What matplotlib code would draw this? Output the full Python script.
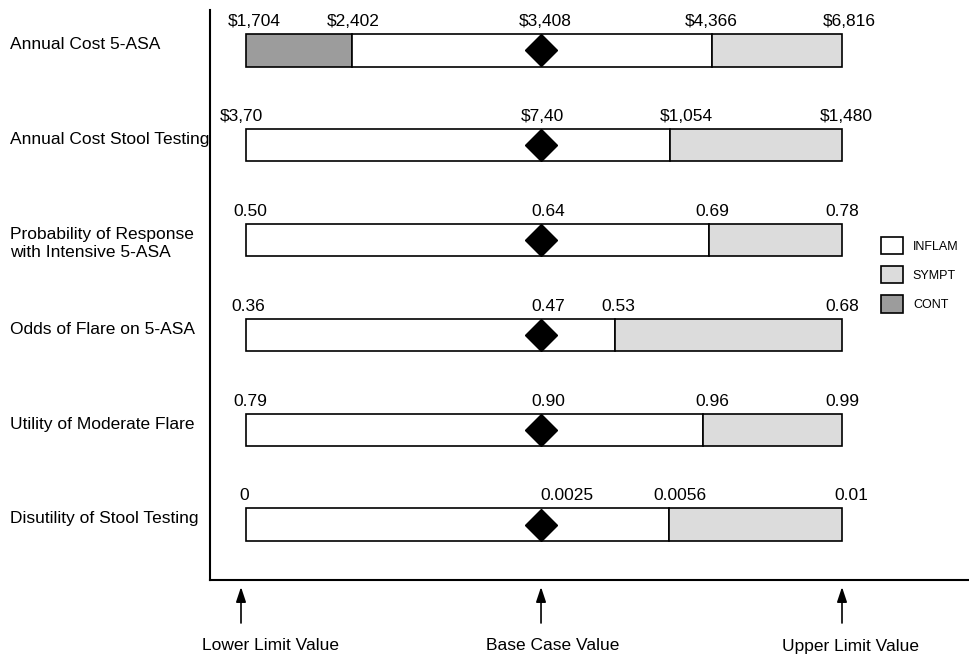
import matplotlib
matplotlib.use("Agg")
import matplotlib.pyplot as plt
from matplotlib.patches import Patch

plt.rcParams['font.family'] = ['Liberation Sans', 'DejaVu Sans']

# ---------------- data ----------------
params = ["Annual Cost 5-ASA", "Annual Cost Stool Testing",
          "Probability of Response\nwith Intensive 5-ASA", "Odds of Flare on 5-ASA",
          "Utility of Moderate Flare", "Disutility of Stool Testing"]
lower_labels = ["$1,704", "$3,70", "0.50", "0.36", "0.79", "0"]
base_labels = ["$3,408", "$7,40", "0.64", "0.47", "0.90", "0.0025"]
upper_labels = ["$6,816", "$1,480", "0.78", "0.68", "0.99", "0.01"]
# normalized positions (lower limit = 0, upper limit = 1)
base_pos = [0.495, 0.495, 0.495, 0.495, 0.495, 0.495]
cont_end = [0.178, 0.0, 0.0, 0.0, 0.0, 0.0]          # CONT optimal from 0 to here
cont_labels = ["$2,402", "", "", "", "", ""]
sympt_start = [0.782, 0.711, 0.777, 0.619, 0.767, 0.710]  # SYMPT optimal from here to 1
sympt_labels = ["$4,366", "$1,054", "0.69", "0.53", "0.96", "0.0056"]

# ---------------- style ----------------
C_INFLAM, C_SYMPT, C_CONT = "white", "#dcdcdc", "#9c9c9c"
FS_VAL = 12.5
FS_ROW = 12.5
bar_h = 0.34
lw = 1.2
# label pixel offsets (horizontal)
lower_dx = [8, -5, 4, 2, 4, -2]
base_dx = [4, 1, 7, 7, 7, 26]
sympt_dx = [-1, 17, 3, 3, 9, 11]
upper_dx = [7, 4, 0, 0, 0, 9]
cont_dx = [1, 0, 0, 0, 0, 0]

fig = plt.figure(figsize=(9.69, 6.58), dpi=100)
W, H = 969, 658
ax = fig.add_axes([210 / W, 78 / H, 759 / W, 570 / H])

px = 1 / 596.0
ax.set_xlim(-36 * px, (969 - 246) * px)
row_sp = 94.8
ax.set_ylim((580 - 50.5) / row_sp, (10 - 50.5) / row_sp)

n = len(params)
for i in range(n):
    y = i
    segs = []
    if cont_end[i] > 0:
        segs.append((0.0, cont_end[i], C_CONT))
    segs.append((cont_end[i], sympt_start[i], C_INFLAM))
    segs.append((sympt_start[i], 1.0, C_SYMPT))
    for s, e, c in segs:
        ax.barh(y, e - s, left=s, height=bar_h, color=c, edgecolor="black",
                linewidth=lw, zorder=2)
    ax.plot(base_pos[i], y, marker="D", ms=16.8, color="black", zorder=3)

    top = y - bar_h / 2
    def lab(xv, txt, dx):
        if txt:
            ax.annotate(txt, (xv, top), xytext=(dx, 8), textcoords="offset pixels",
                        ha="center", va="baseline", fontsize=FS_VAL)
    lab(0.0, lower_labels[i], lower_dx[i])
    lab(base_pos[i], base_labels[i], base_dx[i])
    lab(sympt_start[i], sympt_labels[i], sympt_dx[i])
    lab(1.0, upper_labels[i], upper_dx[i])
    if cont_end[i] > 0:
        lab(cont_end[i], cont_labels[i], cont_dx[i])

    if "\n" in params[i]:
        ax.annotate(params[i], (0, y), xycoords=("figure pixels", "data"),
                    xytext=(10, -3), textcoords="offset pixels",
                    ha="left", va="center", fontsize=FS_ROW, linespacing=1.25,
                    annotation_clip=False)
    else:
        ax.annotate(params[i], (0, y), xycoords=("figure pixels", "data"),
                    xytext=(10, 1), textcoords="offset pixels",
                    ha="left", va="baseline", fontsize=FS_ROW,
                    annotation_clip=False)

for s in ["top", "right"]:
    ax.spines[s].set_visible(False)
for s in ["left", "bottom"]:
    ax.spines[s].set_linewidth(1.5)
ax.set_xticks([])
ax.set_yticks([])

# arrows and bottom labels
arrow_x = [0.0 - 5 * px, 0.495, 1.0]
arrow_text = ["Lower Limit Value", "Base Case Value", "Upper Limit Value"]
text_dx = [30, 12, 8]
for xv, t, dx in zip(arrow_x, arrow_text, text_dx):
    ax.annotate("", xy=(xv, H - 587), xytext=(xv, H - 623),
                xycoords=("data", "figure pixels"), textcoords=("data", "figure pixels"),
                arrowprops=dict(arrowstyle="-|>,head_length=0.9,head_width=0.3",
                                color="black", lw=1.2, shrinkA=0, shrinkB=0),
                annotation_clip=False)
    ax.annotate(t, xy=(xv, H - 646), xycoords=("data", "figure pixels"),
                xytext=(dx, 0), textcoords="offset pixels",
                ha="center", va="center", fontsize=FS_VAL, annotation_clip=False)

handles = [Patch(facecolor=C_INFLAM, edgecolor="black", linewidth=1.2, label="INFLAM"),
           Patch(facecolor=C_SYMPT, edgecolor="black", linewidth=1.2, label="SYMPT"),
           Patch(facecolor=C_CONT, edgecolor="black", linewidth=1.2, label="CONT")]
fig.legend(handles=handles, loc="upper left", bbox_to_anchor=(881 / W, 1 - 237 / H),
           frameon=False, fontsize=9, handlelength=1.75, handleheight=1.75,
           labelspacing=0.95, handletextpad=0.8, borderpad=0, borderaxespad=0)

fig.savefig("out.png", dpi=100)
